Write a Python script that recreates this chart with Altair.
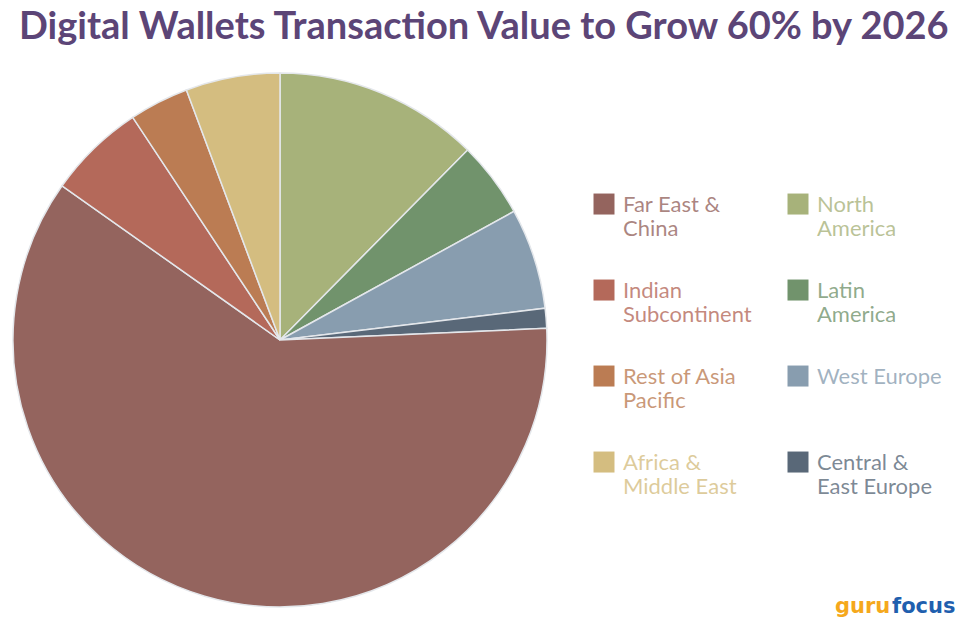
import altair as alt
import pandas as pd

# Pie order: clockwise from 12 o'clock
regions = ["North America", "Latin America", "West Europe", "Central & East Europe",
           "Far East & China", "Indian Subcontinent", "Rest of Asia Pacific", "Africa & Middle East"]
shares = [12.4, 4.6, 6.1, 1.2, 60.5, 5.9, 3.6, 5.7]

# Legend order (legend fills column by column)
legend_order = ["Far East & China", "Indian Subcontinent", "Rest of Asia Pacific", "Africa & Middle East",
                "North America", "Latin America", "West Europe", "Central & East Europe"]
legend_colors = ["#94645e", "#b4695a", "#bb7c53", "#d4bd80",
                 "#a7b27a", "#71936c", "#889daf", "#596878"]
label_lines = {
    "Far East & China": ["Far East &", "China"],
    "North America": ["North", "America"],
    "Indian Subcontinent": ["Indian", "Subcontinent"],
    "Latin America": ["Latin", "America"],
    "Rest of Asia Pacific": ["Rest of Asia", "Pacific"],
    "West Europe": ["West Europe"],
    "Africa & Middle East": ["Africa &", "Middle East"],
    "Central & East Europe": ["Central &", "East Europe"],
}

title_text = "Digital Wallets Transaction Value to Grow 60% by 2026"

df = pd.DataFrame({"region": regions, "share": shares, "idx": list(range(len(regions)))})

def arr(lines):
    return "[" + ", ".join("'" + s + "'" for s in lines) + "]"

expr = "datum.label"
for k in reversed(legend_order):
    expr = f"datum.label === '{k}' ? {arr(label_lines[k])} : ({expr})"

sym_path = "M-1,-0.14H1V1.86H-1Z"

pie = alt.Chart(df).mark_arc(stroke="#e4e7eb", strokeWidth=1.5).encode(
    theta=alt.Theta("share:Q", stack=True),
    color=alt.Color(
        "region:N",
        scale=alt.Scale(domain=legend_order, range=legend_colors),
        legend=alt.Legend(
            title=None, orient="none", legendX=580, legendY=111, columns=2,
            symbolType=sym_path, symbolSize=441, symbolStrokeWidth=0, symbolOpacity=1,
            labelFont="Lato", labelFontSize=22,
            labelColor=alt.ExprRef(expr="scale('color', datum.value)"),
            labelOpacity=0.78, labelBaseline="top", labelOffset=8,
            labelExpr=expr, labelLimit=300,
            rowPadding=30, columnPadding=35, padding=0,
        ),
    ),
    order=alt.Order("idx:Q"),
)

logo_df = pd.DataFrame({"t": ["guru"]})
logo_df2 = pd.DataFrame({"t": ["focus"]})
guru = alt.Chart(logo_df).mark_text(
    font="DejaVu Sans", fontSize=21, fontWeight="bold", color="#f5a81c",
    align="left", baseline="alphabetic"
).encode(text="t:N", x=alt.value(822), y=alt.value(540))
focus = alt.Chart(logo_df2).mark_text(
    font="DejaVu Sans", fontSize=21, fontWeight="bold", color="#1f5fae",
    align="left", baseline="alphabetic"
).encode(text="t:N", x=alt.value(879), y=alt.value(540))

chart = alt.layer(pie, guru, focus).properties(
    width=534, height=534,
    autosize=alt.AutoSizeParams(type="none"),
    padding={"left": 13, "top": 73, "right": 413, "bottom": 26},
    title=alt.TitleParams(
        text=title_text, font="Lato", fontSize=38, fontWeight="bold", color="#5c4577",
        anchor="start", frame="group", dx=6, offset=-7, baseline="alphabetic",
    ),
).configure(background="white").configure_view(strokeWidth=0)

chart.save("out.html", embed_options={"renderer": "svg", "actions": False})
